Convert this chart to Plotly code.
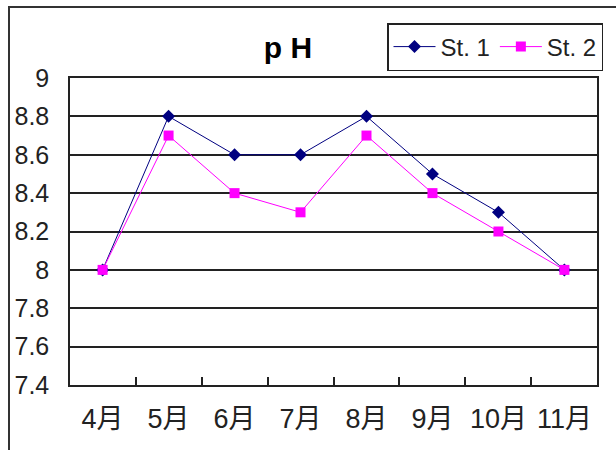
import plotly.graph_objects as go

months = ["4月", "5月", "6月", "7月", "8月", "9月", "10月", "11月"]
st1 = [8.0, 8.8, 8.6, 8.6, 8.8, 8.5, 8.3, 8.0]
st2 = [8.0, 8.7, 8.4, 8.3, 8.7, 8.4, 8.2, 8.0]
y_ticks = [7.4, 7.6, 7.8, 8.0, 8.2, 8.4, 8.6, 8.8, 9.0]
y_labels = ["7.4", "7.6", "7.8", "8", "8.2", "8.4", "8.6", "8.8", "9"]

FONT = "Liberation Sans, Noto Sans CJK JP, sans-serif"

fig = go.Figure()
fig.add_trace(go.Scatter(
    x=months, y=st1, name="St. 1", mode="lines+markers",
    line=dict(color="#000080", width=1),
    marker=dict(symbol="diamond", size=10, color="#000080"),
))
fig.add_trace(go.Scatter(
    x=months, y=st2, name="St. 2", mode="lines+markers",
    line=dict(color="#FF00FF", width=1),
    marker=dict(symbol="square", size=10, color="#FF00FF"),
))

L, R, T, B = 70, 19, 78, 65
W, H = 616, 450
pw, ph = W - L - R, H - T - B

fig.update_layout(
    width=W, height=H,
    margin=dict(l=L, r=R, t=T, b=B, autoexpand=False),
    paper_bgcolor="white", plot_bgcolor="white",
    font=dict(family=FONT, color="#222222"),
    title=dict(text="<b>p H</b>", font=dict(size=30, family=FONT, color="black"),
               x=(288 - L) / pw, xref="paper", xanchor="center",
               y=1 - 47 / H, yref="container", yanchor="middle"),
    showlegend=True,
    legend=dict(orientation="h", x=(387 - L) / pw, xanchor="left",
                y=1 + (T - 23) / ph, yanchor="top",
                bordercolor="#222222", borderwidth=1.5,
                font=dict(size=24, family=FONT, color="#222222"),
                bgcolor="white", itemwidth=42, tracegroupgap=0),
    xaxis=dict(type="category", showline=True, mirror=True, linecolor="#222222",
               linewidth=1.5, ticks="inside", tickson="boundaries", ticklen=8,
               tickcolor="#222222", tickwidth=1.5, showgrid=False,
               tickangle=0, automargin=False,
               tickfont=dict(size=27, family=FONT, color="#222222"),
               ticklabelstandoff=9, fixedrange=True),
    yaxis=dict(range=[7.4, 9.0], tickvals=y_ticks, ticktext=y_labels,
               showline=True, mirror=True, linecolor="#222222", linewidth=1.5,
               showgrid=True, gridcolor="#222222", gridwidth=1.5, ticks="",
               zeroline=False, automargin=False,
               tickfont=dict(size=25, family=FONT, color="#222222"),
               ticklabelstandoff=14, fixedrange=True),
    shapes=[dict(type="rect", xref="paper", yref="paper",
                 x0=(9 - L) / pw, x1=1.2, y0=-0.4, y1=1 + (T - 7) / ph,
                 line=dict(color="#333333", width=2), layer="below")],
)

fig.write_html("out.html")
